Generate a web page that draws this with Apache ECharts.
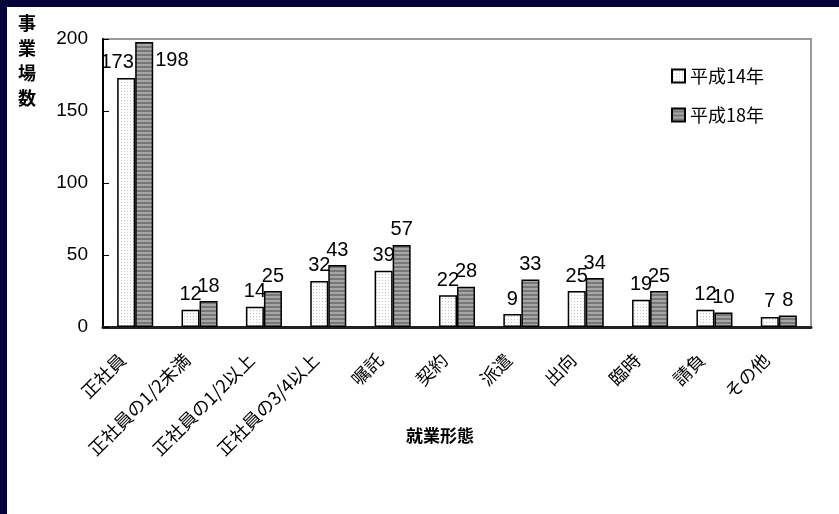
<!DOCTYPE html>
<html><head><meta charset="utf-8">
<script src="https://cdn.jsdelivr.net/npm/echarts@6/dist/echarts.min.js"></script>
<style>
html,body{margin:0;padding:0;background:#fff;overflow:hidden;width:839px;height:514px;}
#main{position:absolute;left:0;top:0;width:839px;height:514px;}
#topbar{position:absolute;left:0;top:0;width:839px;height:7px;background:#05053a;}
#leftbar{position:absolute;left:0;top:0;width:7px;height:514px;background:#05053a;}
</style></head>
<body>
<div id="main"></div>
<div id="topbar"></div>
<div id="leftbar"></div>
<script>
const categories = ['正社員','正社員の1/2未満','正社員の1/2以上','正社員の3/4以上','嘱託','契約','派遣','出向','臨時','請負','その他'];
const seriesNames = ['平成14年','平成18年'];
const h14 = [173,12,14,32,39,22,9,25,19,12,7];
const h18 = [198,18,25,43,57,28,33,34,25,10,8];
const yTicks = [0,50,100,150,200];
const xAxisTitle = '就業形態';
const yAxisTitle = '事\n業\n場\n数';

function dotPattern(){
  const c=document.createElement('canvas');c.width=3;c.height=3;
  const g=c.getContext('2d');g.fillStyle='#ffffff';g.fillRect(0,0,3,3);
  g.fillStyle='#c4c4c4';g.fillRect(1,1,1,1);return c;
}
function stripePattern(){
  const c=document.createElement('canvas');c.width=4;c.height=4;
  const g=c.getContext('2d');g.fillStyle='#777777';g.fillRect(0,0,4,4);
  g.fillStyle='#a6a6a6';g.fillRect(0,0,4,2);return c;
}
const JP='"Noto Sans CJK JP", sans-serif';
const NUM='"Liberation Sans", Arial, sans-serif';
const chart=echarts.init(document.getElementById('main'),null,{renderer:'canvas'});
const labelBase={show:true,position:'top',distance:5,color:'#000',fontSize:20,fontFamily:NUM};
const s1data=h14.map((v,i)=> i===0?{value:v,label:{offset:[-9,0]}}:v);
const s2data=h18.map((v,i)=> i===0?{value:v,label:{position:'right',offset:[0,-124],distance:2}}:v);
chart.setOption({
  backgroundColor:'#fff',
  animation:false,
  textStyle:{fontFamily:JP},
  grid:{left:103,right:28,top:39,bottom:187,show:true,borderColor:'#999',borderWidth:2,backgroundColor:'transparent'},
  legend:{orient:'vertical',left:666,top:62,itemGap:21,itemWidth:13,itemHeight:13,icon:'rect',
    textStyle:{fontSize:18,color:'#000',fontFamily:JP},data:seriesNames},
  xAxis:{type:'category',data:categories,
    axisLine:{lineStyle:{color:'#222',width:3}},
    axisTick:{inside:true,length:7,lineStyle:{color:'#000',width:1}},
    axisLabel:{rotate:45,fontSize:18,color:'#000',margin:17,padding:[0,18,0,0],interval:0,fontFamily:JP}},
  yAxis:{type:'value',min:yTicks[0],max:yTicks[yTicks.length-1],interval:50,
    axisLine:{show:true,lineStyle:{color:'#000',width:2}},
    axisTick:{show:true,inside:true,length:6,lineStyle:{color:'#000'}},
    splitLine:{show:false},
    axisLabel:{fontSize:19,color:'#000',margin:15,fontFamily:NUM}},
  graphic:[
    {type:'text',left:18,top:11,style:{text:yAxisTitle,lineHeight:25,fill:'#000',font:'bold 18px '+JP}},
    {type:'text',left:406,top:427,style:{text:xAxisTitle,fill:'#000',font:'bold 17px '+JP}}
  ],
  series:[
    {name:seriesNames[0],type:'bar',data:s1data,barGap:'0%',barCategoryGap:'44%',
     itemStyle:{color:{image:dotPattern(),repeat:'repeat'},borderColor:'#000',borderWidth:1.5},
     label:labelBase},
    {name:seriesNames[1],type:'bar',data:s2data,
     itemStyle:{color:{image:stripePattern(),repeat:'repeat'},borderColor:'#000',borderWidth:1.5},
     label:labelBase}
  ]
});
</script>
</body></html>
